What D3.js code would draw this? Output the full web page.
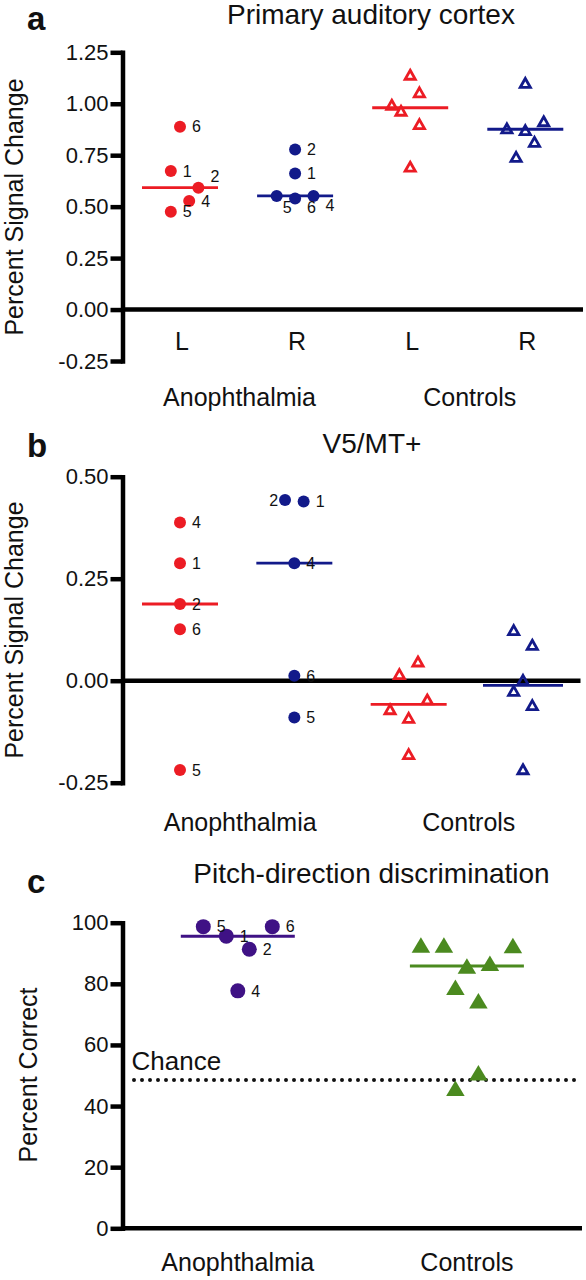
<!DOCTYPE html>
<html><head><meta charset="utf-8">
<script src="https://cdn.jsdelivr.net/npm/d3@7"></script>
<style>
body{margin:0;background:#fff}
svg{display:block;background:#fff}
text{font-family:"Liberation Sans",Arial,Helvetica,sans-serif;fill:#111}
</style>
</head><body><svg id="chart" width="586" height="1280"></svg>
<script>
// ================= DATA =================
const groups = ["Anophthalmia", "Controls"];
const hemis = ["L", "R", "L", "R"];
const patientIds = [1, 2, 4, 5, 6];

// Panel a: Primary auditory cortex (percent signal change)
const audAnophL = [0.673, 0.592, 0.528, 0.475, 0.888];
const audAnophR = [0.661, 0.778, 0.552, 0.552, 0.540];
const audCtrlL  = [1.141, 1.055, 0.995, 0.966, 0.901, 0.694];
const audCtrlR  = [1.101, 0.915, 0.880, 0.872, 0.815, 0.742];
const audTicks = [-0.25, 0, 0.25, 0.5, 0.75, 1.0, 1.25];
const audTickLabels = ["-0.25", "0.00", "0.25", "0.50", "0.75", "1.00", "1.25"];

// Panel b: V5/MT+
const mtAnophL = [0.288, 0.188, 0.388, -0.219, 0.126];
const mtAnophR = [0.439, 0.443, 0.288, -0.090, 0.012];
const mtCtrlL  = [0.047, 0.016, -0.046, -0.070, -0.091, -0.180];
const mtCtrlR  = [0.124, 0.088, 0.002, -0.025, -0.060, -0.217];
const mtTicks = [-0.25, 0, 0.25, 0.5];
const mtTickLabels = ["-0.25", "0.00", "0.25", "0.50"];

// Panel c: Pitch-direction discrimination (percent correct)
const pitchAnoph = [95.6, 91.3, 77.7, 98.7, 98.7];
const pitchCtrl  = [92.7, 92.7, 92.5, 86.7, 85.8, 78.9, 74.5, 50.9, 45.8];
const pitchTicks = [0, 20, 40, 60, 80, 100];
const pitchTickLabels = ["0", "20", "40", "60", "80", "100"];
const chanceLevel = 48.5;

// ================= LAYOUT (scatter spread slots & label placement) =================
const slotAudAL = [-1, 2, 1, -1, 0];
const slotAudAR = [0, 0, 2, -2, 0];
const slotAudCL = [0, 1, -2, -1, 1, 0];
const slotAudCR = [0, 2, -2, 0, 1, -1];
const slotMtAL  = [0, 0, 0, 0, 0];
const slotMtAR  = [1, -1, 0, 0, 0];
const slotMtCL  = [1, -1, 2, -2, 0, 0];
const slotMtCR  = [-1, 1, 0, -1, 1, 0];
const slotPitA  = [-1, 1, 0, -3, 3];
const slotPitC  = [-4, -2, 4, 2, 0, -1, 1, 1, -1];
const lblAudAL = ["r", "ur", "r", "r", "r"];
const lblAudAR = ["r", "r", "dr", "d", "dr"];
const lblMtAL  = ["r", "r", "r", "r", "r"];
const lblMtAR  = ["r", "l", "r", "r", "r"];
const lblPitA  = ["r", "r", "r", "r", "r"];

const RED = "#ec1c24", BLUE = "#121a8a", PURPLE = "#3f1285", GREEN = "#4b8a1f";
const FONT = '"Liberation Sans", Arial, Helvetica, sans-serif';

const svg = d3.select("#chart");
svg.append("rect").attr("width", 586).attr("height", 1280).attr("fill", "#fff");

const AXIS_X = 122.5;
const AXIS_W = 4.5;

function yAxis(g, y, ticks, labels) {
  const ax = d3.axisLeft(y).tickValues(ticks)
    .tickFormat((d, i) => labels[i])
    .tickSize(12).tickSizeOuter(0).tickPadding(2);
  const a = g.append("g").attr("transform", `translate(${AXIS_X},0)`).call(ax);
  a.select(".domain").attr("stroke", "#000").attr("stroke-width", AXIS_W).attr("stroke-linecap", "square");
  a.selectAll(".tick line").attr("stroke", "#000").attr("stroke-width", AXIS_W);
  a.selectAll(".tick text").attr("font-size", 22).attr("font-family", FONT).attr("fill", "#111");
  return a;
}

function labelOffset(code, r) {
  switch (code) {
    case "ur": return {dx: r + 6, dy: -11, anchor: "start"};
    case "dr": return {dx: r + 6, dy: 9, anchor: "start"};
    case "d":  return {dx: r, dy: 11, anchor: "start"};
    case "l":  return {dx: -r - 1, dy: 0, anchor: "end"};
    default:   return {dx: r + 6, dy: 0, anchor: "start"};
  }
}

function drawCircles(g, vals, slots, labels, cx, y, jit, r, color) {
  const pts = vals.map((v, i) => ({v, x: cx + jit(slots[i]), y: y(v), id: patientIds[i], lab: labels ? labels[i] : null}));
  g.selectAll(null).data(pts).enter().append("circle")
    .attr("cx", d => d.x).attr("cy", d => d.y).attr("r", r).attr("fill", color);
  if (labels) {
    g.selectAll(null).data(pts).enter().append("text")
      .each(function(d) {
        const o = labelOffset(d.lab, r);
        d3.select(this).attr("x", d.x + o.dx).attr("y", d.y + o.dy + 5.7)
          .attr("text-anchor", o.anchor);
      })
      .attr("font-size", 16).attr("font-family", FONT).attr("fill", "#111")
      .text(d => d.id);
  }
}

function triPath(w, h) {
  return `M0,${-h / 2}L${w / 2},${h / 2}L${-w / 2},${h / 2}Z`;
}

function drawTriangles(g, vals, slots, cx, y, jit, w, h, color, filled) {
  g.selectAll(null).data(vals).enter().append("path")
    .attr("d", triPath(w, h))
    .attr("transform", (d, i) => `translate(${cx + jit(slots[i])},${y(d)})`)
    .attr("fill", filled ? color : "none")
    .attr("stroke", filled ? "none" : color)
    .attr("stroke-width", filled ? 0 : 2.8)
    .attr("stroke-linejoin", "miter");
}

function drawMedian(g, vals, cx, y, half, color, sw) {
  const m = d3.median(vals);
  g.append("line").attr("x1", cx - half).attr("x2", cx + half)
    .attr("y1", y(m)).attr("y2", y(m)).attr("stroke", color).attr("stroke-width", sw);
}

function panelText(g, letter, lx, ly, title, tx, ty) {
  g.append("text").attr("x", lx).attr("y", ly).attr("font-size", 33).attr("font-weight", "bold")
    .attr("font-family", FONT).attr("fill", "#000").text(letter);
  g.append("text").attr("x", tx).attr("y", ty).attr("text-anchor", "middle").attr("font-size", 28)
    .attr("font-family", FONT).attr("fill", "#111").text(title);
}

function yTitle(g, text, x, y) {
  g.append("text").attr("transform", `translate(${x},${y}) rotate(-90)`)
    .attr("text-anchor", "middle").attr("font-size", 25).attr("font-family", FONT)
    .attr("fill", "#111").text(text);
}

// ================= PANEL A =================
{
  const g = svg.append("g");
  const y = d3.scaleLinear().domain([-0.25, 1.25]).range([361, 52.3]);
  const x = d3.scalePoint().domain([0, 1, 2, 3]).range([180, 525.3]);
  const jit = d3.scaleLinear().domain([0, 1]).range([0, 9.2]);
  panelText(g, "a", 27, 30, "Primary auditory cortex", 371, 24);
  yTitle(g, "Percent Signal Change", 23, 207);
  yAxis(g, y, audTicks, audTickLabels);
  g.append("line").attr("x1", AXIS_X).attr("x2", 583).attr("y1", y(0)).attr("y2", y(0))
    .attr("stroke", "#000").attr("stroke-width", AXIS_W);
  drawMedian(g, audAnophL, x(0), y, 38, RED, 2.8);
  drawMedian(g, audAnophR, x(1), y, 38, BLUE, 2.8);
  drawMedian(g, audCtrlL, x(2), y, 38, RED, 2.8);
  drawMedian(g, audCtrlR, x(3), y, 38, BLUE, 2.8);
  drawCircles(g, audAnophL, slotAudAL, lblAudAL, x(0), y, jit, 6, RED);
  drawCircles(g, audAnophR, slotAudAR, lblAudAR, x(1), y, jit, 6, BLUE);
  drawTriangles(g, audCtrlL, slotAudCL, x(2), y, jit, 10.2, 9, RED, false);
  drawTriangles(g, audCtrlR, slotAudCR, x(3), y, jit, 10.2, 9, BLUE, false);
  g.selectAll(null).data(hemis).enter().append("text")
    .attr("x", (d, i) => x(i) + 2).attr("y", 350).attr("text-anchor", "middle")
    .attr("font-size", 25).attr("font-family", FONT).text(d => d);
  g.selectAll(null).data(groups).enter().append("text")
    .attr("x", (d, i) => (x(2 * i) + x(2 * i + 1)) / 2 + 2).attr("y", 406).attr("text-anchor", "middle")
    .attr("font-size", 25).attr("font-family", FONT).text(d => d);
}

// ================= PANEL B =================
{
  const g = svg.append("g");
  const y = d3.scaleLinear().domain([-0.25, 0.5]).range([782.7, 476.7]);
  const x = d3.scalePoint().domain([0, 1, 2, 3]).range([180, 523]);
  const jit = d3.scaleLinear().domain([0, 1]).range([0, 9.3]);
  panelText(g, "b", 27, 457, "V5/MT+", 372, 453);
  yTitle(g, "Percent Signal Change", 23, 630);
  yAxis(g, y, mtTicks, mtTickLabels);
  g.append("line").attr("x1", AXIS_X).attr("x2", 580.5).attr("y1", y(0)).attr("y2", y(0))
    .attr("stroke", "#000").attr("stroke-width", AXIS_W);
  drawMedian(g, mtAnophL, x(0), y, 38, RED, 2.8);
  drawMedian(g, mtAnophR, x(1), y, 38, BLUE, 2.8);
  drawMedian(g, mtCtrlL, x(2), y, 38, RED, 2.8);
  drawMedian(g, mtCtrlR, x(3), y, 40, BLUE, 2.8);
  drawCircles(g, mtAnophL, slotMtAL, lblMtAL, x(0), y, jit, 6, RED);
  drawCircles(g, mtAnophR, slotMtAR, lblMtAR, x(1), y, jit, 6, BLUE);
  drawTriangles(g, mtCtrlL, slotMtCL, x(2), y, jit, 10.2, 9, RED, false);
  drawTriangles(g, mtCtrlR, slotMtCR, x(3), y, jit, 10.2, 9, BLUE, false);
  g.selectAll(null).data(groups).enter().append("text")
    .attr("x", (d, i) => (x(2 * i) + x(2 * i + 1)) / 2 + 3).attr("y", 830.5).attr("text-anchor", "middle")
    .attr("font-size", 25).attr("font-family", FONT).text(d => d);
}

// ================= PANEL C =================
{
  const g = svg.append("g");
  const y = d3.scaleLinear().domain([0, 100]).range([1228.3, 922.7]);
  const x = d3.scalePoint().domain(groups).range([237.8, 466.9]);
  const jit = d3.scaleLinear().domain([0, 1]).range([0, 11.5]);
  panelText(g, "c", 27, 893, "Pitch-direction discrimination", 371.5, 883);
  yTitle(g, "Percent Correct", 37, 1075);
  yAxis(g, y, pitchTicks, pitchTickLabels);
  g.append("line").attr("x1", AXIS_X).attr("x2", 582).attr("y1", y(0)).attr("y2", y(0))
    .attr("stroke", "#000").attr("stroke-width", AXIS_W);
  // chance line
  g.append("line").attr("x1", 134).attr("x2", 577).attr("y1", y(chanceLevel)).attr("y2", y(chanceLevel))
    .attr("stroke", "#111").attr("stroke-width", 4).attr("stroke-linecap", "round")
    .attr("stroke-dasharray", "0 8");
  g.append("text").attr("x", 131.5).attr("y", 1070).attr("font-size", 26).attr("font-family", FONT)
    .text("Chance");
  drawMedian(g, pitchAnoph, x(groups[0]), y, 57, PURPLE, 3);
  drawMedian(g, pitchCtrl, x(groups[1]), y, 57, GREEN, 3);
  drawCircles(g, pitchAnoph, slotPitA, lblPitA, x(groups[0]), y, jit, 7.5, PURPLE);
  drawTriangles(g, pitchCtrl, slotPitC, x(groups[1]), y, jit, 18.5, 15.5, GREEN, true);
  g.selectAll(null).data(groups).enter().append("text")
    .attr("x", d => x(d)).attr("y", 1271).attr("text-anchor", "middle")
    .attr("font-size", 25).attr("font-family", FONT).text(d => d);
}
</script>
</body></html>
